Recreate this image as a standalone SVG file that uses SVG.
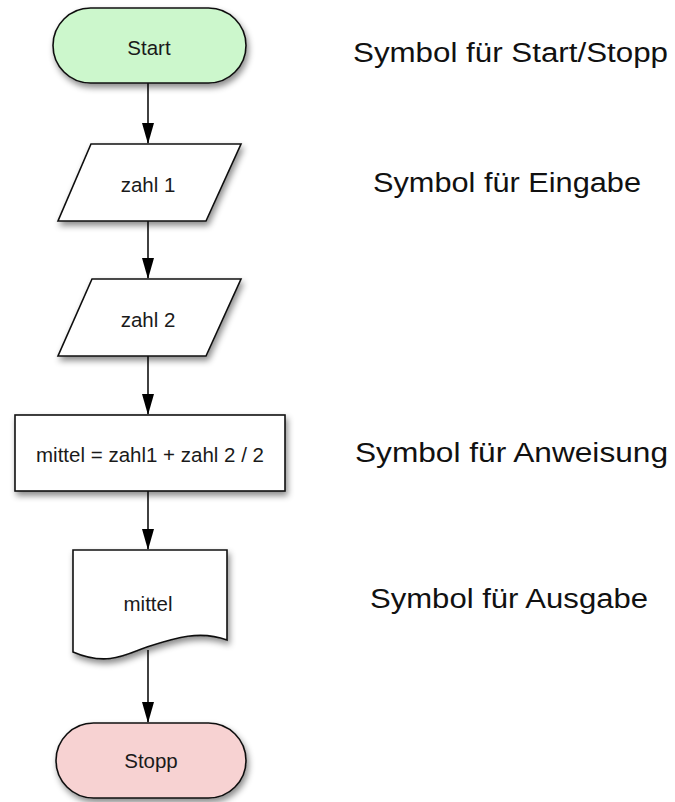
<svg xmlns="http://www.w3.org/2000/svg" width="675" height="802" viewBox="0 0 675 802">
  <defs>
    <filter id="shadow" x="-20%" y="-20%" width="140%" height="150%">
      <feDropShadow dx="2" dy="4" stdDeviation="3" flood-color="#000" flood-opacity="0.45"/>
    </filter>
    <marker id="arrow" markerUnits="userSpaceOnUse" markerWidth="21" markerHeight="12" viewBox="0 0 21 12" refX="20" refY="6" orient="auto">
      <path d="M0,0 L21,6 L0,12 Z" fill="#000"/>
    </marker>
    <style>
      .shape { stroke: #111; stroke-width: 1.6; filter: url(#shadow); }
      .white { fill: #fff; }
      .start { fill: #ccf7cc; }
      .stop { fill: #f7d2d2; }
      .lbl { font-family: "Liberation Sans", Arial, Helvetica, sans-serif; font-size: 20.5px; fill: #1a1a1a; text-anchor: middle; }
      .side { font-family: "Liberation Sans", Arial, Helvetica, sans-serif; font-size: 27px; fill: #111; }
      .conn { stroke: #111; stroke-width: 1.6; fill: none; }
    </style>
  </defs>
  <rect width="675" height="802" fill="#fff"/>

  <!-- connectors -->
  <g id="connectors">
    <line class="conn" x1="148" y1="83" x2="148" y2="143" marker-end="url(#arrow)"/>
    <line class="conn" x1="148" y1="221" x2="148" y2="278" marker-end="url(#arrow)"/>
    <line class="conn" x1="148" y1="356" x2="148" y2="414" marker-end="url(#arrow)"/>
    <line class="conn" x1="148" y1="491" x2="148" y2="549" marker-end="url(#arrow)"/>
    <line class="conn" x1="148" y1="650" x2="148" y2="722" marker-end="url(#arrow)"/>
  </g>

  <!-- flowchart nodes -->
  <g id="node-start">
    <rect class="shape start" x="53" y="8" width="193" height="75" rx="37.5" ry="37.5"/>
    <text class="lbl" x="149" y="55">Start</text>
  </g>

  <g id="node-zahl1">
    <polygon class="shape white" points="91,144 241,144 206,221 58,221"/>
    <text class="lbl" x="148" y="192">zahl 1</text>
  </g>

  <g id="node-zahl2">
    <polygon class="shape white" points="92,279 241,279 206,356 58,356"/>
    <text class="lbl" x="148" y="327">zahl 2</text>
  </g>

  <g id="node-anweisung">
    <rect class="shape white" x="15" y="415" width="270" height="76"/>
    <text class="lbl" x="150" y="462">mittel = zahl1 + zahl 2 / 2</text>
  </g>

  <g id="node-ausgabe">
    <path class="shape white" d="M73,550 H227 V640 C200,630 175,638 150,646 C130,652 110,668 73,652 Z"/>
    <text class="lbl" x="148" y="611">mittel</text>
  </g>

  <g id="node-stopp">
    <rect class="shape stop" x="56" y="723" width="190" height="75" rx="37.5" ry="37.5"/>
    <text class="lbl" x="151" y="768">Stopp</text>
  </g>

  <!-- legend texts -->
  <g id="legend">
    <text class="side" x="353" y="62" textLength="315" lengthAdjust="spacingAndGlyphs">Symbol für Start/Stopp</text>
    <text class="side" x="373" y="192" textLength="268" lengthAdjust="spacingAndGlyphs">Symbol für Eingabe</text>
    <text class="side" x="355" y="462" textLength="313" lengthAdjust="spacingAndGlyphs">Symbol für Anweisung</text>
    <text class="side" x="370" y="608" textLength="278" lengthAdjust="spacingAndGlyphs">Symbol für Ausgabe</text>
  </g>
</svg>
